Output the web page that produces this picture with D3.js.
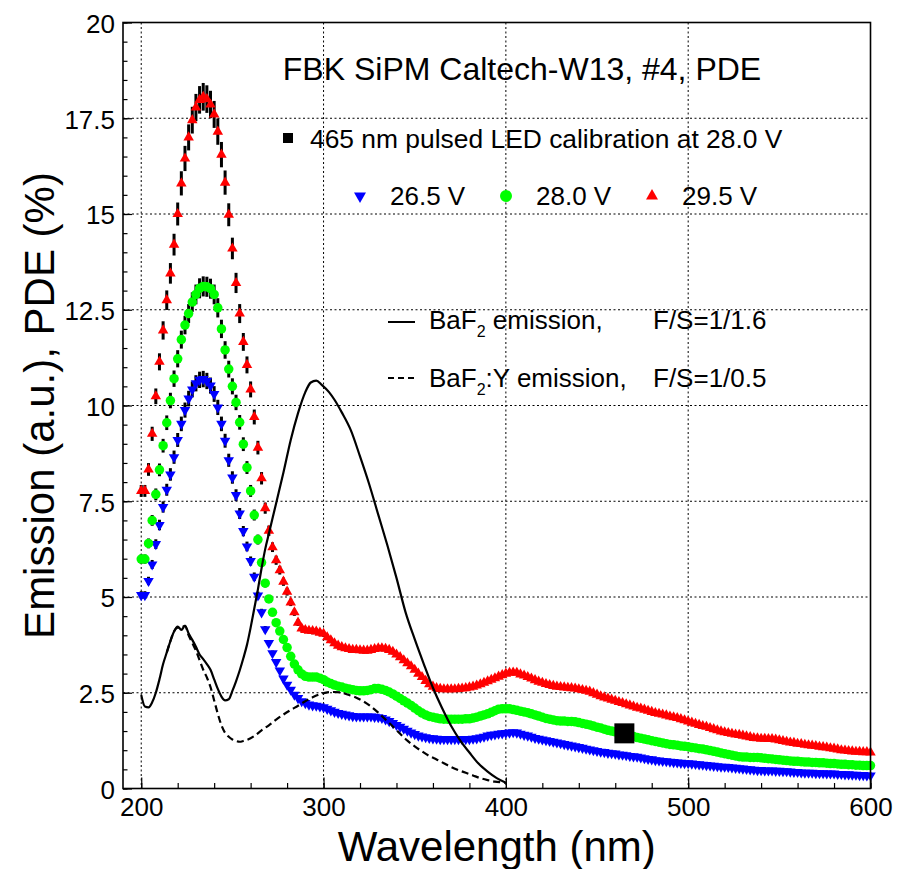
<!DOCTYPE html>
<html>
<head>
<meta charset="utf-8">
<script src="https://cdn.jsdelivr.net/npm/d3@7"></script>
<style>
  body { margin: 0; background: #fff; }
  text { font-family: "Liberation Sans", Arial, Helvetica, sans-serif; fill: #000; }
</style>
</head>
<body>
<script>
// PDE measured every 2 nm from 200 to 600 nm
const pdeWl = d3.range(200, 601, 2);

const pde265 = [
  5.05, 5.05, 5.42, 5.85, 6.38, 6.88, 7.35, 7.80, 8.20, 8.65,
  9.10, 9.52, 9.88, 10.18, 10.42, 10.58, 10.67, 10.69, 10.64, 10.52,
  10.30, 9.95, 9.52, 9.08, 8.57, 8.12, 7.66, 7.18, 6.72, 6.32,
  5.94, 5.53, 5.04, 4.60, 4.16, 3.80, 3.53, 3.30, 3.08, 2.87,
  2.71, 2.58, 2.45, 2.36, 2.28, 2.23, 2.19, 2.17, 2.16, 2.14,
  2.12, 2.08, 2.04, 2.00, 1.97, 1.95, 1.93, 1.91, 1.89, 1.88,
  1.88, 1.88, 1.88, 1.88, 1.87, 1.86, 1.84, 1.80, 1.76, 1.71,
  1.66, 1.61, 1.56, 1.51, 1.46, 1.42, 1.38, 1.36, 1.34, 1.32,
  1.31, 1.30, 1.29, 1.29, 1.29, 1.29, 1.29, 1.29, 1.29, 1.29,
  1.29, 1.30, 1.31, 1.33, 1.35, 1.38, 1.40, 1.41, 1.43, 1.44,
  1.45, 1.46, 1.47, 1.46, 1.43, 1.40, 1.38, 1.35, 1.32, 1.30,
  1.28, 1.26, 1.24, 1.22, 1.20, 1.18, 1.16, 1.14, 1.12, 1.10,
  1.08, 1.06, 1.04, 1.02, 1.00, 0.98, 0.96, 0.95, 0.93, 0.92,
  0.91, 0.89, 0.88, 0.87, 0.85, 0.84, 0.83, 0.81, 0.79, 0.77,
  0.76, 0.74, 0.73, 0.72, 0.71, 0.70, 0.69, 0.68, 0.67, 0.66,
  0.66, 0.65, 0.64, 0.63, 0.62, 0.61, 0.60, 0.59, 0.58, 0.57,
  0.57, 0.56, 0.55, 0.54, 0.53, 0.52, 0.51, 0.50, 0.49, 0.48,
  0.48, 0.47, 0.47, 0.47, 0.46, 0.46, 0.45, 0.45, 0.44, 0.43,
  0.43, 0.42, 0.41, 0.41, 0.41, 0.40, 0.40, 0.40, 0.39, 0.39,
  0.39, 0.38, 0.38, 0.37, 0.37, 0.36, 0.36, 0.35, 0.35, 0.34,
  0.34
];

const pde280 = [
  5.99, 5.99, 6.40, 7.00, 7.68, 8.32, 8.95, 9.55, 10.13, 10.70,
  11.22, 11.72, 12.10, 12.40, 12.70, 12.90, 13.06, 13.11, 13.10, 13.05,
  12.90, 12.55, 12.00, 11.45, 10.95, 10.50, 10.08, 9.56, 8.99, 8.38,
  7.77, 7.14, 6.50, 5.90, 5.36, 4.95, 4.60, 4.33, 4.11, 3.89,
  3.68, 3.45, 3.25, 3.10, 2.99, 2.93, 2.91, 2.91, 2.91, 2.88,
  2.84, 2.78, 2.74, 2.70, 2.67, 2.65, 2.62, 2.60, 2.58, 2.56,
  2.55, 2.55, 2.56, 2.58, 2.61, 2.61, 2.59, 2.56, 2.52, 2.47,
  2.41, 2.35, 2.29, 2.23, 2.17, 2.10, 2.03, 1.97, 1.92, 1.88,
  1.86, 1.84, 1.82, 1.81, 1.81, 1.81, 1.81, 1.81, 1.81, 1.82,
  1.82, 1.84, 1.86, 1.89, 1.92, 1.95, 1.99, 2.03, 2.07, 2.08,
  2.08, 2.08, 2.06, 2.04, 2.02, 2.00, 1.98, 1.95, 1.92, 1.89,
  1.86, 1.83, 1.81, 1.79, 1.77, 1.76, 1.76, 1.75, 1.75, 1.74,
  1.72, 1.70, 1.68, 1.66, 1.63, 1.60, 1.58, 1.55, 1.52, 1.50,
  1.48, 1.46, 1.44, 1.42, 1.39, 1.36, 1.33, 1.31, 1.29, 1.27,
  1.25, 1.23, 1.21, 1.19, 1.17, 1.15, 1.14, 1.13, 1.11, 1.10,
  1.09, 1.07, 1.06, 1.04, 1.03, 1.01, 0.99, 0.97, 0.95, 0.93,
  0.91, 0.89, 0.87, 0.85, 0.83, 0.82, 0.82, 0.81, 0.81, 0.81,
  0.80, 0.79, 0.78, 0.77, 0.76, 0.75, 0.74, 0.73, 0.72, 0.71,
  0.71, 0.70, 0.69, 0.69, 0.68, 0.68, 0.67, 0.67, 0.66, 0.65,
  0.65, 0.64, 0.63, 0.63, 0.62, 0.62, 0.61, 0.61, 0.60, 0.60,
  0.60
];

const pde295 = [
  7.77, 7.77, 8.33, 9.26, 10.24, 11.14, 11.96, 12.75, 13.45, 14.20,
  15.00, 15.80, 16.45, 17.00, 17.45, 17.78, 17.98, 18.06, 18.00, 17.86,
  17.60, 17.15, 16.55, 15.82, 14.98, 14.10, 13.20, 12.40, 11.66, 11.06,
  10.42, 9.70, 8.90, 8.10, 7.32, 6.73, 6.30, 5.96, 5.70, 5.40,
  5.14, 4.86, 4.60, 4.33, 4.18, 4.14, 4.12, 4.11, 4.10, 4.07,
  4.04, 3.95, 3.87, 3.79, 3.73, 3.69, 3.66, 3.64, 3.62, 3.62,
  3.61, 3.60, 3.60, 3.62, 3.64, 3.66, 3.66, 3.65, 3.62, 3.57,
  3.50, 3.43, 3.35, 3.27, 3.19, 3.10, 3.00, 2.91, 2.81, 2.72,
  2.66, 2.62, 2.60, 2.59, 2.59, 2.59, 2.59, 2.60, 2.61, 2.62,
  2.64, 2.66, 2.69, 2.72, 2.76, 2.80, 2.84, 2.88, 2.92, 2.96,
  3.00, 3.02, 3.03, 3.02, 2.98, 2.95, 2.91, 2.87, 2.83, 2.79,
  2.76, 2.73, 2.70, 2.68, 2.66, 2.65, 2.64, 2.63, 2.62, 2.61,
  2.59, 2.57, 2.55, 2.53, 2.49, 2.45, 2.41, 2.38, 2.35, 2.32,
  2.29, 2.26, 2.23, 2.20, 2.17, 2.14, 2.11, 2.09, 2.06, 2.03,
  2.00, 1.97, 1.95, 1.93, 1.91, 1.88, 1.86, 1.84, 1.81, 1.78,
  1.75, 1.72, 1.69, 1.66, 1.63, 1.61, 1.58, 1.55, 1.52, 1.49,
  1.47, 1.45, 1.43, 1.41, 1.40, 1.38, 1.36, 1.34, 1.32, 1.31,
  1.30, 1.30, 1.29, 1.29, 1.28, 1.26, 1.24, 1.22, 1.20, 1.19,
  1.17, 1.16, 1.14, 1.13, 1.12, 1.11, 1.09, 1.08, 1.07, 1.05,
  1.04, 1.02, 1.00, 0.99, 0.98, 0.97, 0.96, 0.96, 0.95, 0.95,
  0.94
];

// relative uncertainty drawn as black bars
const pdeRelErr = 0.02;

// BaF2 emission (a.u.)
const baf2Wl = [200, 202, 204, 206, 208, 210, 212, 214, 216, 218, 220, 222, 224, 226, 228, 230, 232, 234, 236, 238,
  240, 242, 244, 246, 248, 250, 252, 254, 256, 258, 260, 262, 264, 266, 268, 270, 274, 278, 282, 286, 290,
  293, 296, 299, 303, 306, 310, 315, 320, 325, 330, 335, 340, 345, 350, 355, 360, 365, 370, 375, 380, 385,
  390, 395, 400];
const baf2Em = [2.44, 2.14, 2.12, 2.25, 2.50, 2.85, 3.25, 3.55, 3.85, 4.10, 4.23, 4.14, 4.25, 4.05, 3.88, 3.70, 3.50, 3.38, 3.25, 3.10,
  2.85, 2.60, 2.40, 2.30, 2.33, 2.55, 2.80, 3.08, 3.40, 3.75, 4.20, 4.70, 5.20, 5.75, 6.25, 6.65, 7.45, 8.25, 9.10, 9.80, 10.35,
  10.60, 10.65, 10.54, 10.35, 10.15, 9.82, 9.35, 8.67, 7.95, 7.15, 6.35, 5.50, 4.60, 3.90, 3.25, 2.63, 2.10, 1.63, 1.25, 0.94, 0.65,
  0.44, 0.27, 0.15];

// BaF2:Y emission (a.u.)
const bafyWl = [214, 216, 218, 220, 222, 224, 226, 228, 230, 232, 234, 236, 238, 240, 242, 244, 246, 248, 250, 252, 254, 256, 258,
  262, 266, 270, 274, 278, 282, 286, 290, 294, 298, 302, 306, 310, 314, 318, 322, 326, 330, 334, 338, 342, 346, 350,
  354, 358, 362, 366, 370, 374, 378, 382, 386, 390, 394, 398, 400];
const bafyEm = [3.55, 3.85, 4.10, 4.20, 4.20, 4.25, 4.00, 3.80, 3.60, 3.35, 3.10, 2.90, 2.65, 2.30, 1.95, 1.65, 1.45, 1.35, 1.28, 1.24, 1.22, 1.24, 1.27,
  1.37, 1.52, 1.65, 1.80, 1.93, 2.05, 2.16, 2.28, 2.38, 2.46, 2.51, 2.52, 2.50, 2.44, 2.37, 2.27, 2.14, 1.98, 1.80, 1.62, 1.43, 1.25, 1.10,
  0.97, 0.85, 0.76, 0.66, 0.56, 0.48, 0.41, 0.34, 0.27, 0.22, 0.18, 0.16, 0.15];

// LED calibration point
const ledWl = [465];
const ledPde = [1.44];

const xMajor = [200, 300, 400, 500, 600];
const xMinor = d3.range(200, 601, 20);
const yMajor = [0, 2.5, 5, 7.5, 10, 12.5, 15, 17.5, 20];
const yMinor = d3.range(0, 20.01, 0.5);

const width = 897, height = 869;
const frame = { left: 123, right: 870.5, top: 22.5, bottom: 788.5 };

const svg = d3.select("body").append("svg")
  .attr("width", width)
  .attr("height", height);

svg.append("rect").attr("width", width).attr("height", height).attr("fill", "#fff");

const x = d3.scaleLinear().domain([190, 600]).range([frame.left, frame.right]);
const y = d3.scaleLinear().domain([0, 20]).range([frame.bottom, frame.top]);

// dotted grid
const grid = svg.append("g").attr("stroke", "#000").attr("stroke-width", 1).attr("stroke-dasharray", "2,2.5");
grid.selectAll(".gx").data(xMajor.slice(0, -1)).join("line")
  .attr("x1", d => x(d)).attr("x2", d => x(d))
  .attr("y1", frame.top).attr("y2", frame.bottom);
grid.selectAll(".gy").data(yMajor.slice(1, -1)).join("line")
  .attr("x1", frame.left).attr("x2", frame.right)
  .attr("y1", d => y(d)).attr("y2", d => y(d));

// axes: ticks pointing inside the frame
const fmt = d => String(d);
svg.append("g").attr("transform", "translate(0," + frame.bottom + ")")
  .call(d3.axisBottom(x).tickValues(xMinor).tickSize(-5.5).tickFormat(""))
  .call(g => g.select(".domain").remove());
const xAx = svg.append("g").attr("transform", "translate(0," + frame.bottom + ")")
  .call(d3.axisBottom(x).tickValues(xMajor).tickSize(-11).tickPadding(9).tickFormat(fmt))
  .call(g => g.select(".domain").remove());
svg.append("g").attr("transform", "translate(" + frame.left + ",0)")
  .call(d3.axisLeft(y).tickValues(yMinor).tickSize(-4.5).tickFormat(""))
  .call(g => g.select(".domain").remove());
const yAx = svg.append("g").attr("transform", "translate(" + frame.left + ",0)")
  .call(d3.axisLeft(y).tickValues(yMajor).tickSize(-9).tickPadding(8).tickFormat(fmt))
  .call(g => g.select(".domain").remove());
svg.selectAll(".tick line").attr("stroke", "#000").attr("stroke-width", 1.2);
xAx.selectAll("text").attr("font-size", 26).attr("font-family", "Liberation Sans, Arial, sans-serif");
yAx.selectAll("text").attr("font-size", 26).attr("dy", "0.38em").attr("font-family", "Liberation Sans, Arial, sans-serif");

// PDE series
const series = [
  { values: pde265, color: "#0000ff", shape: "down", label: "26.5 V" },
  { values: pde280, color: "#00ff00", shape: "circle", label: "28.0 V" },
  { values: pde295, color: "#ff0000", shape: "up", label: "29.5 V" }
];

function markerPath(shape, s) {
  if (shape === "circle") return d3.symbol().type(d3.symbolCircle).size(Math.PI * s * s / 4)();
  return d3.symbol().type(d3.symbolTriangle).size(s * s * Math.sqrt(3) / 4)();
}

// error bars under the markers
const errG = svg.append("g").attr("stroke", "#000").attr("stroke-width", 3);
series.forEach(s => {
  errG.selectAll(null).data(pdeWl).join("line")
    .attr("x1", d => x(d)).attr("x2", d => x(d))
    .attr("y1", (d, i) => y(s.values[i] * (1 - pdeRelErr)))
    .attr("y2", (d, i) => y(s.values[i] * (1 + pdeRelErr)));
});

series.forEach(s => {
  const p = markerPath(s.shape, s.shape === "circle" ? 9.5 : 10.5);
  svg.append("g").selectAll("path").data(pdeWl).join("path")
    .attr("d", p)
    .attr("fill", s.color)
    .attr("transform", (d, i) => "translate(" + x(d) + "," + y(s.values[i]) + ")" + (s.shape === "down" ? " rotate(180)" : ""));
});

// emission curves
const line = d3.line().x(d => x(d[0])).y(d => y(d[1])).curve(d3.curveMonotoneX);
svg.append("path")
  .attr("d", line(d3.zip(baf2Wl, baf2Em)))
  .attr("fill", "none").attr("stroke", "#000").attr("stroke-width", 2.2);
svg.append("path")
  .attr("d", line(d3.zip(bafyWl, bafyEm)))
  .attr("fill", "none").attr("stroke", "#000").attr("stroke-width", 2.2)
  .attr("stroke-dasharray", "7,4");

// LED calibration point
svg.append("g").selectAll("rect").data(ledWl).join("rect")
  .attr("x", d => x(d) - 10).attr("y", (d, i) => y(ledPde[i]) - 10)
  .attr("width", 20).attr("height", 20).attr("fill", "#000");

// frame
svg.append("rect")
  .attr("x", frame.left).attr("y", frame.top)
  .attr("width", frame.right - frame.left).attr("height", frame.bottom - frame.top)
  .attr("fill", "none").attr("stroke", "#000").attr("stroke-width", 1.6);

// titles
svg.append("text").attr("x", 522).attr("y", 80).attr("text-anchor", "middle")
  .attr("font-size", 32).text("FBK SiPM Caltech-W13, #4, PDE");

svg.append("rect").attr("x", 283).attr("y", 133).attr("width", 10).attr("height", 10).attr("fill", "#000");
svg.append("text").attr("x", 310).attr("y", 148).attr("font-size", 26.4)
  .text("465 nm pulsed LED calibration at 28.0 V");

// voltage legend
const legX = [360, 506, 652];
series.forEach((s, i) => {
  svg.append("path").attr("d", markerPath(s.shape, 12))
    .attr("fill", s.color)
    .attr("transform", "translate(" + legX[i] + ",196)" + (s.shape === "down" ? " rotate(180)" : ""));
  svg.append("text").attr("x", legX[i] + 30).attr("y", 205).attr("font-size", 26).text(s.label);
});

// emission legend
svg.append("line").attr("x1", 388).attr("x2", 415).attr("y1", 322).attr("y2", 322)
  .attr("stroke", "#000").attr("stroke-width", 2);
svg.append("line").attr("x1", 388).attr("x2", 414).attr("y1", 378).attr("y2", 378)
  .attr("stroke", "#000").attr("stroke-width", 2).attr("stroke-dasharray", "6,4");

const t1 = svg.append("text").attr("x", 429).attr("y", 329).attr("font-size", 26);
t1.append("tspan").text("BaF");
t1.append("tspan").attr("font-size", 16).attr("dy", 8).text("2");
t1.append("tspan").attr("dy", -8).text(" emission,");
svg.append("text").attr("x", 653).attr("y", 329).attr("font-size", 26).text("F/S=1/1.6");

const t2 = svg.append("text").attr("x", 429).attr("y", 387).attr("font-size", 26);
t2.append("tspan").text("BaF");
t2.append("tspan").attr("font-size", 16).attr("dy", 8).text("2");
t2.append("tspan").attr("dy", -8).text(":Y emission,");
svg.append("text").attr("x", 653).attr("y", 387).attr("font-size", 26).text("F/S=1/0.5");

// axis titles
svg.append("text").attr("x", (frame.left + frame.right) / 2).attr("y", 861)
  .attr("text-anchor", "middle").attr("font-size", 42).text("Wavelength (nm)");
svg.append("text")
  .attr("transform", "translate(54," + ((frame.top + frame.bottom) / 2) + ") rotate(-90)")
  .attr("text-anchor", "middle").attr("font-size", 42).text("Emission (a.u.), PDE (%)");
</script>
</body>
</html>
